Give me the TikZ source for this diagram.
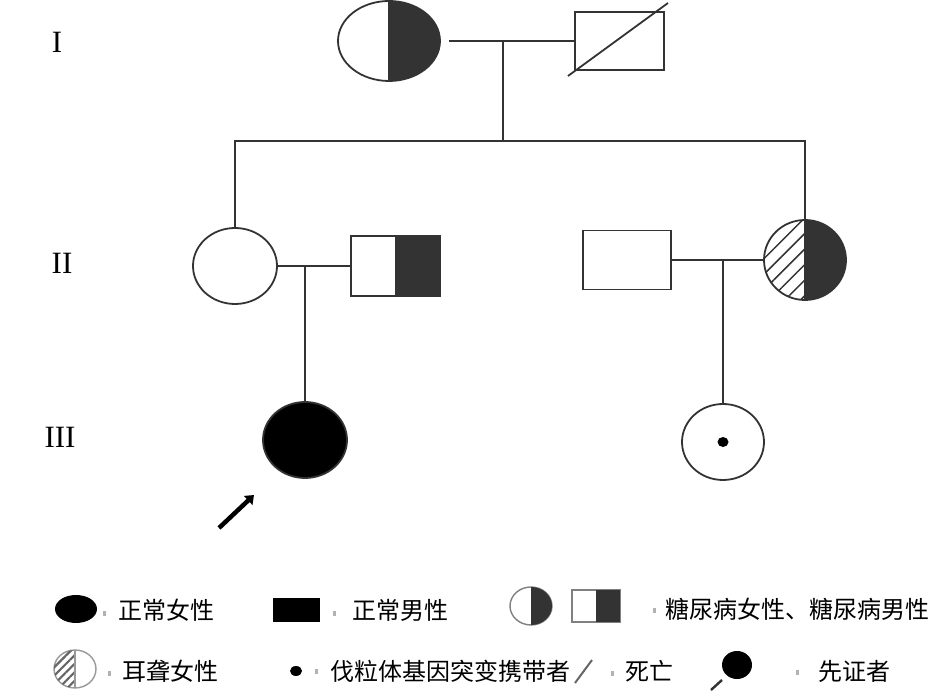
\documentclass[tikz,border=0pt]{standalone}
\usepackage{fontspec}
\setmainfont{Liberation Serif}
\newfontfamily\cjk{Noto Sans CJK SC}
\usetikzlibrary{shapes,arrows.meta,calc,positioning,backgrounds,patterns.meta}

\begin{document}
\begin{tikzpicture}[x=1pt,y=1pt,
  every node/.style={outer sep=0pt,inner sep=0pt},
  ln/.style={draw=black!80,line width=1.8pt},
  fem/.style={ln,ellipse},
  mal/.style={ln,rectangle},
  dk/.style={fill=black!80},
  hatch/.style={pattern={Lines[angle=45,distance=11pt,line width=1.5pt]},pattern color=black!80},
  gen/.style={font=\fontsize{31}{31}\selectfont},
  lab/.style={font=\cjk\fontsize{24}{26}\selectfont,anchor=west},
  mk/.style={fill=black!30,minimum width=3pt,minimum height=5pt}]

\useasboundingbox (0,0) rectangle (945,696);

        % generation labels
        \node (g1) [gen] at (57,654) {I};
        \node (g2) [gen] at (62,433) {II};
        \node (g3) [gen] at (60,259) {III};

        % generation I
        \node (I1) [fem,minimum width=102pt,minimum height=80pt] at (389,655) {};
        \node (I2) [mal,minimum width=89pt,minimum height=58pt] at (619.5,655) {};
        \draw[ln] ($(I2.south west)+(-7,-6)$) -- ($(I2.north east)+(4,9)$);
        \draw[ln,shorten <=9pt] (I1.east) -- (I2.west);
        \coordinate (m1) at (503,655);
        \coordinate (s1) at (503,555);
        \draw[ln] (m1) -- (s1);

        % generation II
        \node (II1) [fem,minimum width=84pt,minimum height=76pt] at (235,430) {};
        \node (II2) [mal,minimum width=89pt,minimum height=60pt] at (395.5,430) {};
        \node (II3) [mal,minimum width=88pt,minimum height=59pt] at (627,436) {};
        \node (II4) [fem,minimum width=82pt,minimum height=80pt] at (805,436) {};
        \draw[ln] (II1.north) -- (II1.north |- s1) -- (II4.north |- s1) -- (II4.north);
        \draw[ln] (II1.east) -- (II2.west);
        \draw[ln] (II3.east) -- (II4.west);
        \coordinate (m2) at (305,430);
        \coordinate (m3) at (723,436);

        % generation III
        \node (III1) [fem,fill=black,minimum width=84pt,minimum height=76pt] at (305,256) {};
        \node (III2) [fem,minimum width=82pt,minimum height=76pt] at (723,254) {};
        \node (d1) [ellipse,fill=black,minimum width=11pt,minimum height=10pt] at (III2) {};
        \draw[ln] (m2) -- (III1.north);
        \draw[ln] (m3) -- (III2.north);
        \coordinate (p0) at (219,168);
        \coordinate (p1) at (254,201);
        \draw[line width=4.5pt,-{Triangle[length=8pt,width=12pt]}] (p0) -- (p1);

        % half fills
        \begin{scope}[on background layer]
          \fill[dk] (I1.north) arc[start angle=90,end angle=-90,x radius=51pt,y radius=40pt] -- cycle;
          \fill[dk] (II2.north) rectangle (II2.south east);
          \fill[dk] (II4.north) arc[start angle=90,end angle=-90,x radius=41pt,y radius=40pt] -- cycle;
          \fill[hatch] (II4.north) arc[start angle=90,end angle=270,x radius=41pt,y radius=40pt] -- cycle;
        \end{scope}
        \draw[ln] (I1.north) -- (I1.south);
        \draw[ln] (II2.north) -- (II2.south);
        \draw[ln] (II4.north) -- (II4.south);

        % legend, first row
        \node (L1) [ellipse,fill=black,minimum width=42pt,minimum height=28pt] at (76,87) {};
        \node (L1m) [mk] at (104,82) {};
        \node (L1t) [lab] at (118,86) {正常女性};
        \node (L2) [fill=black,minimum width=47pt,minimum height=24pt] at (296.5,86) {};
        \node (L2m) [mk] at (334,82) {};
        \node (L2t) [lab] at (352,86) {正常男性};
        \node (L3) [ellipse,draw=black!50,line width=1.4pt,minimum width=42pt,minimum height=38pt] at (531,90) {};
        \fill[dk] (L3.north) arc[start angle=90,end angle=-90,x radius=21pt,y radius=19pt] -- cycle;
        \node (L4) [draw=black!50,line width=1.4pt,minimum width=48pt,minimum height=32pt] at (596,90) {};
        \fill[dk] (L4.north) rectangle (L4.south east);
        \node (L4m) [mk] at (654,85) {};
        \node (L4t) [lab] at (665,87) {糖尿病女性、糖尿病男性};

        % legend, second row
        \node (L5) [ellipse,draw=black!40,line width=1.4pt,minimum width=42pt,minimum height=38pt] at (75,27) {};
        \fill[pattern={Lines[angle=45,distance=6pt,line width=2.2pt]},pattern color=black!60]
          (L5.north) arc[start angle=90,end angle=270,x radius=21pt,y radius=19pt] -- cycle;
        \draw[draw=black!40,line width=1.4pt] (L5.north) -- (L5.south);
        \node (L5m) [mk] at (109,22) {};
        \node (L5t) [lab] at (122,25) {耳聋女性};
        \node (L6) [ellipse,fill=black,minimum width=12pt,minimum height=10pt] at (296,25) {};
        \node (L6m) [mk] at (316,24) {};
        \node (L6t) [lab] at (330,25) {伐粒体基因突变携带者};
        \coordinate (k0) at (575,13);
        \coordinate (k1) at (592,36);
        \draw[draw=black!60,line width=2pt] (k0) -- (k1);
        \node (L7m) [mk] at (612,22) {};
        \node (L7t) [lab] at (625,25) {死亡};
        \node (L8) [ellipse,fill=black,minimum width=30pt,minimum height=28pt] at (737,31) {};
        \coordinate (q0) at (711,6);
        \coordinate (q1) at (722,16);
        \draw[draw=black!80,line width=2.4pt] (q0) -- (q1);
        \node (L8m) [mk] at (797,23) {};
        \node (L8t) [lab] at (818,25) {先证者};
      \end{tikzpicture}
\end{document}
